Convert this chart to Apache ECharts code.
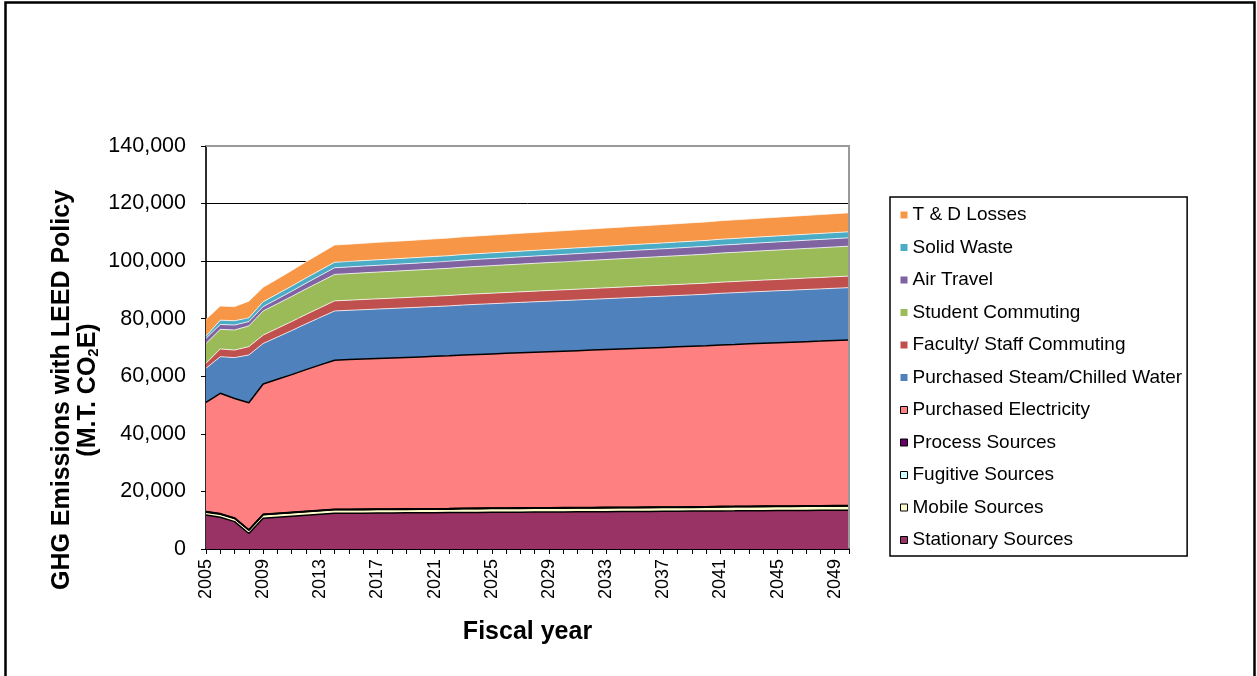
<!DOCTYPE html>
<html>
<head>
<meta charset="utf-8">
<style>
  html, body { margin: 0; padding: 0; background: #fff; }
  #chart { width: 1257px; height: 676px; }
</style>
<script src="https://cdn.jsdelivr.net/npm/echarts@6/dist/echarts.min.js"></script>
</head>
<body>
<div id="chart"></div>
<script>
// Fiscal years on the category axis
const years = [
  '2005','2006','2007','2008','2009','2010','2011','2012','2013','2014',
  '2015','2016','2017','2018','2019','2020','2021','2022','2023','2024',
  '2025','2026','2027','2028','2029','2030','2031','2032','2033','2034',
  '2035','2036','2037','2038','2039','2040','2041','2042','2043','2044',
  '2045','2046','2047','2048','2049','2050'
];

// Emissions by source, metric tonnes CO2e (stacked bottom to top)
const stationary = [
  11800, 11000, 9500, 5400, 10700, 11040, 11380, 11720, 12060, 12400,
  12430, 12460, 12490, 12520, 12550, 12580, 12610, 12640, 12670, 12710,
  12740, 12770, 12800, 12830, 12860, 12890, 12920, 12950, 12980, 13010,
  13040, 13070, 13100, 13130, 13160, 13190, 13220, 13250, 13290, 13320,
  13350, 13380, 13410, 13440, 13470, 13500
];
const mobile = [
  1000, 1100, 1100, 1100, 1200, 1200, 1200, 1200, 1200, 1200,
  1200, 1200, 1200, 1200, 1200, 1200, 1200, 1200, 1300, 1300,
  1300, 1300, 1300, 1300, 1300, 1300, 1300, 1300, 1300, 1300,
  1300, 1300, 1300, 1300, 1300, 1300, 1400, 1400, 1400, 1400,
  1400, 1400, 1400, 1400, 1400, 1400
];
const fugitive = [
  100, 100, 100, 100, 100, 100, 100, 100, 100, 100,
  100, 100, 100, 100, 100, 100, 100, 100, 100, 100,
  100, 100, 100, 100, 100, 100, 100, 100, 100, 100,
  100, 100, 100, 100, 100, 100, 100, 100, 100, 100,
  100, 100, 100, 100, 100, 100
];
const processSrc = [
  100, 100, 100, 100, 100, 100, 100, 100, 100, 100,
  100, 100, 100, 100, 100, 100, 100, 100, 100, 100,
  100, 100, 100, 100, 100, 100, 100, 100, 100, 100,
  100, 100, 100, 100, 100, 100, 100, 100, 100, 100,
  100, 100, 100, 100, 100, 100
];
const electricity = [
  37900, 41800, 41500, 44100, 45200, 46500, 47800, 49200, 50500, 51800,
  51960, 52120, 52280, 52430, 52590, 52750, 52910, 53070, 53220, 53380,
  53540, 53700, 53860, 54020, 54180, 54330, 54490, 54650, 54810, 54970,
  55130, 55280, 55440, 55600, 55760, 55920, 56080, 56230, 56390, 56550,
  56710, 56870, 57030, 57180, 57340, 57500
];
const steamChilled = [
  11900, 12700, 14200, 16600, 14100, 14700, 15300, 15900, 16500, 17100,
  17130, 17160, 17190, 17220, 17250, 17280, 17310, 17340, 17370, 17410,
  17440, 17470, 17500, 17530, 17560, 17590, 17620, 17650, 17680, 17710,
  17740, 17770, 17800, 17830, 17860, 17890, 17920, 17950, 17990, 18020,
  18050, 18080, 18110, 18140, 18170, 18200
];
const facultyStaff = [
  1700, 2700, 2600, 2900, 2900, 3020, 3140, 3260, 3380, 3500,
  3510, 3530, 3540, 3560, 3570, 3580, 3600, 3610, 3630, 3640,
  3650, 3670, 3680, 3690, 3710, 3720, 3740, 3750, 3760, 3780,
  3790, 3810, 3820, 3830, 3850, 3860, 3880, 3890, 3900, 3920,
  3930, 3940, 3960, 3970, 3990, 4000
];
const student = [
  6900, 6800, 7000, 7200, 8400, 8560, 8720, 8880, 9040, 9200,
  9230, 9270, 9300, 9330, 9370, 9400, 9430, 9470, 9500, 9530,
  9570, 9600, 9630, 9670, 9700, 9730, 9770, 9800, 9830, 9870,
  9900, 9930, 9970, 10000, 10030, 10070, 10100, 10130, 10170, 10200,
  10230, 10270, 10300, 10330, 10370, 10400
];
const airTravel = [
  1800, 1700, 1700, 1500, 1500, 1660, 1820, 1980, 2140, 2300,
  2320, 2330, 2350, 2370, 2380, 2400, 2420, 2430, 2450, 2470,
  2480, 2500, 2520, 2530, 2550, 2570, 2580, 2600, 2620, 2630,
  2650, 2670, 2680, 2700, 2720, 2730, 2750, 2770, 2780, 2800,
  2820, 2830, 2850, 2870, 2880, 2900
];
const solidWaste = [
  800, 1500, 1500, 1300, 1700, 1740, 1780, 1820, 1860, 1900,
  1910, 1910, 1920, 1920, 1930, 1930, 1940, 1940, 1950, 1960,
  1960, 1970, 1970, 1980, 1980, 1990, 1990, 2000, 2010, 2010,
  2020, 2020, 2030, 2030, 2040, 2040, 2050, 2060, 2060, 2070,
  2070, 2080, 2080, 2090, 2090, 2100
];
const tdLosses = [
  5800, 4900, 4900, 5800, 5000, 5200, 5400, 5600, 5800, 6000,
  6020, 6030, 6050, 6070, 6080, 6100, 6120, 6130, 6150, 6170,
  6180, 6200, 6220, 6230, 6250, 6270, 6280, 6300, 6320, 6330,
  6350, 6370, 6380, 6400, 6420, 6430, 6450, 6470, 6480, 6500,
  6520, 6530, 6550, 6570, 6580, 6600
];

// y-axis tick values
const yTicks = [0, 20000, 40000, 60000, 80000, 100000, 120000, 140000];

const FONT = 'Liberation Sans, Arial, sans-serif';

// name, values, fill colour, outlined in black
const layers = [
  ['Stationary Sources', stationary, '#993366', true],
  ['Mobile Sources', mobile, '#FFFFCC', true],
  ['Fugitive Sources', fugitive, '#CCFFFF', true],
  ['Process Sources', processSrc, '#660066', true],
  ['Purchased Electricity', electricity, '#FF8080', true],
  ['Purchased Steam/Chilled Water', steamChilled, '#4F81BD', false],
  ['Faculty/ Staff Commuting', facultyStaff, '#C0504D', false],
  ['Student Commuting', student, '#9BBB59', false],
  ['Air Travel', airTravel, '#8064A2', false],
  ['Solid Waste', solidWaste, '#4BACC6', false],
  ['T & D Losses', tdLosses, '#F79646', false]
];

const series = layers.map(([name, values, color, outlined]) => ({
  name: name,
  type: 'line',
  stack: 'total',
  data: values,
  symbol: 'none',
  smooth: false,
  z: outlined ? 3 : 2,
  color: color,
  lineStyle: outlined
    ? { color: '#000', width: 1.5 }
    : { color: 'rgba(255,255,255,0.75)', width: 1 },
  areaStyle: { color: color, opacity: 1 },
  emphasis: { disabled: true }
}));

const legendData = layers.slice().reverse().map(([name, , , outlined]) => (
  outlined
    ? { name: name, itemStyle: { borderColor: '#000', borderWidth: 1 } }
    : { name: name, itemStyle: { borderWidth: 0 } }
));

// plot area bounds in pixels
const PLOT = { left: 206, top: 146, right: 849, bottom: 549 };

const chart = echarts.init(document.getElementById('chart'), null, { renderer: 'canvas' });

chart.setOption({
  animation: false,
  backgroundColor: '#fff',
  textStyle: { fontFamily: FONT },
  grid: {
    left: PLOT.left, top: PLOT.top, right: 1257 - PLOT.right, bottom: 676 - PLOT.bottom,
    show: true, borderColor: '#9a9a9a', borderWidth: 1.5, backgroundColor: '#fff'
  },
  legend: {
    orient: 'vertical',
    left: 890, top: 197,
    icon: 'rect',
    itemWidth: 7, itemHeight: 7,
    itemGap: 12.5,
    padding: [8, 5, 6, 10],
    borderColor: '#000', borderWidth: 1.5,
    backgroundColor: '#fff',
    selectedMode: false,
    textStyle: { fontFamily: FONT, fontSize: 19, color: '#000', lineHeight: 20 },
    data: legendData
  },
  xAxis: {
    type: 'category',
    data: years,
    boundaryGap: false,
    name: 'Fiscal year',
    nameLocation: 'middle',
    nameGap: 71,
    nameTextStyle: { fontFamily: FONT, fontSize: 25, fontWeight: 'bold', color: '#000' },
    axisLine: { lineStyle: { color: '#000', width: 1.5 } },
    axisTick: { show: true, interval: 0, length: 5, lineStyle: { color: '#000', width: 1 } },
    axisLabel: {
      interval: 3, rotate: 90, margin: 10,
      fontFamily: FONT, fontSize: 18, color: '#000'
    },
    splitLine: { show: false }
  },
  yAxis: {
    type: 'value',
    min: yTicks[0], max: yTicks[yTicks.length - 1], interval: yTicks[1] - yTicks[0],
    axisLine: { show: true, lineStyle: { color: '#000', width: 1.5 } },
    axisTick: { show: true, length: 5, lineStyle: { color: '#000', width: 1 } },
    axisLabel: {
      margin: 20, fontFamily: FONT, fontSize: 21.5, color: '#000',
      formatter: v => v.toLocaleString('en-US')
    },
    splitLine: { show: true, lineStyle: { color: '#000', width: 1 } }
  },
  graphic: [
    {
      // grey frame along the top and right of the plot area
      type: 'polyline',
      shape: { points: [[PLOT.left, PLOT.top], [PLOT.right, PLOT.top], [PLOT.right, PLOT.bottom - 1]] },
      style: { fill: 'none', stroke: '#9a9a9a', lineWidth: 2 },
      silent: true, z: 50
    },
    {
      type: 'rect',
      shape: { x: 5.5, y: 2.5, width: 1249, height: 690 },
      style: { fill: 'none', stroke: '#000', lineWidth: 2.5 },
      silent: true, z: 100
    },
    {
      type: 'text',
      x: 75, y: 390,
      rotation: Math.PI / 2,
      silent: true,
      style: {
        text: '{a|GHG Emissions with LEED Policy}\n{a|(M.T. CO}{s|2}{a|E)}',
        align: 'center',
        verticalAlign: 'middle',
        fill: '#000',
        rich: {
          a: { fontFamily: FONT, fontSize: 25, fontWeight: 'bold', lineHeight: 26, verticalAlign: 'bottom', fill: '#000' },
          s: { fontFamily: FONT, fontSize: 15, fontWeight: 'bold', lineHeight: 15, verticalAlign: 'bottom', fill: '#000' }
        }
      }
    }
  ],
  series: series
});
</script>
</body>
</html>
